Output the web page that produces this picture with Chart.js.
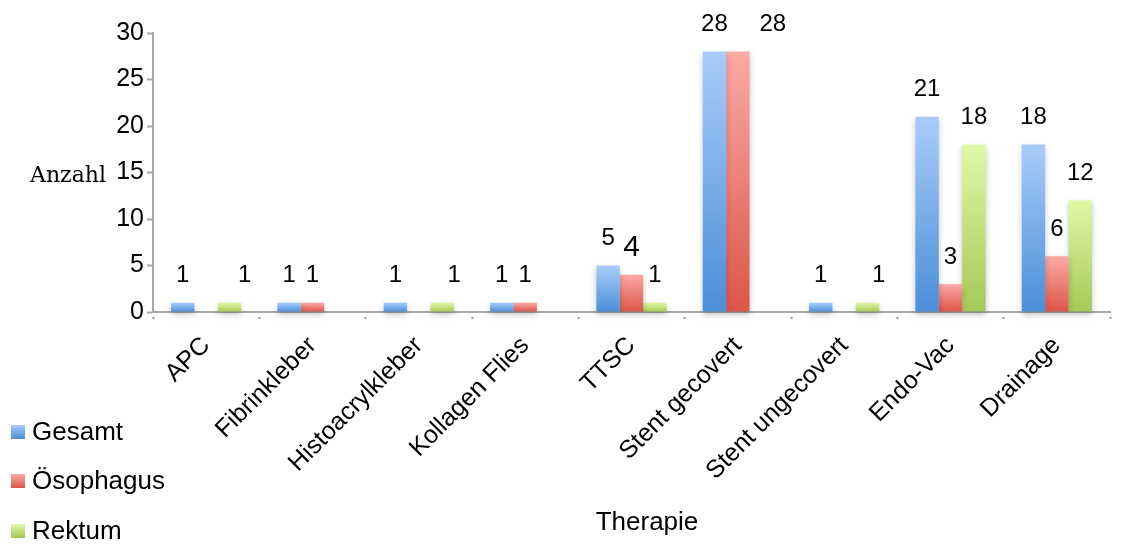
<!DOCTYPE html>
<html lang="de">
<head>
<meta charset="utf-8">
<title>Therapie – Anzahl</title>
<script src="https://cdn.jsdelivr.net/npm/chart.js@4.4.1/dist/chart.umd.min.js"></script>
<style>
  html, body { margin: 0; padding: 0; background: #ffffff; }
  #wrap { width: 1138px; height: 547px; }
</style>
</head>
<body>
<div id="wrap"><canvas id="chart" width="1138" height="547"></canvas></div>
<script>
// Therapy categories and counts per group
const categories = ['APC', 'Fibrinkleber', 'Histoacrylkleber', 'Kollagen Flies', 'TTSC',
                    'Stent gecovert', 'Stent ungecovert', 'Endo-Vac', 'Drainage'];
const gesamt     = [1, 1, 1, 1, 5, 28, 1, 21, 18];
const oesophagus = [0, 1, 0, 1, 4, 28, 0, 3, 6];
const rektum     = [1, 0, 1, 0, 1, 0, 1, 18, 12];
const yTicks     = [0, 5, 10, 15, 20, 25, 30];

const FONT = "'Liberation Sans', Arial, sans-serif";

// top / bottom colours of each series' vertical gradient
const palette = [
  { top: '#a9ccfa', bottom: '#4a8ed8' },
  { top: '#fbaaa5', bottom: '#dc5548' },
  { top: '#e0f8a6', bottom: '#a5c957' }
];

function barGradient(idx) {
  return (ctx) => {
    const chart = ctx.chart;
    const { ctx: c, chartArea, scales } = chart;
    if (!chartArea || ctx.raw === undefined) return palette[idx].bottom;
    const top = scales.y.getPixelForValue(ctx.raw);
    const bottom = scales.y.getPixelForValue(0);
    const g = c.createLinearGradient(0, top, 0, Math.max(bottom, top + 1));
    g.addColorStop(0, palette[idx].top);
    g.addColorStop(1, palette[idx].bottom);
    return g;
  };
}

// value labels above the bars, legend at the lower left, axis titles
const decorations = {
  id: 'decorations',
  beforeDatasetsDraw(chart) {
    const c = chart.ctx;
    c.save();
    c.shadowColor = 'rgba(0,0,0,0.22)';
    c.shadowBlur = 6;
    c.shadowOffsetY = 3;
  },
  afterDatasetsDraw(chart, args, opts) {
    const c = chart.ctx;
    c.restore();
    c.save();
    c.fillStyle = '#000';
    c.textAlign = 'center';
    c.textBaseline = 'middle';
    chart.data.datasets.forEach((ds, di) => {
      const meta = chart.getDatasetMeta(di);
      meta.data.forEach((bar, i) => {
        const v = ds.data[i];
        if (!v) return;
        const key = di + ':' + i;
        const size = (opts.sizes && opts.sizes[key]) || 24;
        const dx = (opts.shifts && opts.shifts[key]) || 0;
        c.font = size + 'px ' + FONT;
        c.fillText(String(v), bar.x + dx, bar.y - 27);
      });
    });
    c.restore();
  },
  afterDraw(chart) {
    const c = chart.ctx;
    c.save();
    c.fillStyle = '#000';
    c.textBaseline = 'middle';
    // y-axis title, written horizontally
    c.font = "22px 'DejaVu Serif', serif";
    c.textAlign = 'left';
    c.fillText('Anzahl', 30, 176);
    // x-axis title
    c.font = '26px ' + FONT;
    c.textAlign = 'center';
    c.fillText('Therapie', 647, 523);
    // legend
    const rows = [432, 481, 531];
    c.textAlign = 'left';
    chart.data.datasets.forEach((ds, di) => {
      const y = rows[di];
      const g = c.createLinearGradient(0, y - 7, 0, y + 7);
      g.addColorStop(0, palette[di].top);
      g.addColorStop(1, palette[di].bottom);
      c.fillStyle = g;
      c.fillRect(11, y - 7, 14, 14);
      c.fillStyle = '#000';
      c.fillText(ds.label, 32, y + 1);
    });
    c.restore();
  }
};

new Chart(document.getElementById('chart'), {
  type: 'bar',
  data: {
    labels: categories,
    datasets: [
      { label: 'Gesamt',     data: gesamt,     backgroundColor: barGradient(0) },
      { label: 'Ösophagus',  data: oesophagus, backgroundColor: barGradient(1) },
      { label: 'Rektum',     data: rektum,     backgroundColor: barGradient(2) }
    ]
  },
  options: {
    responsive: false,
    animation: false,
    layout: { padding: { top: 33, right: 28, left: 0, bottom: 0 } },
    datasets: {
      bar: { categoryPercentage: 0.66, barPercentage: 1.0, borderWidth: 0, clip: false }
    },
    plugins: {
      legend: { display: false },
      tooltip: { enabled: false },
      decorations: {
        sizes: { '1:4': 30 },
        shifts: { '2:0': 15, '2:2': 12, '1:5': 35, '2:6': 11 }
      }
    },
    scales: {
      x: {
        grid: {
          display: true,
          drawOnChartArea: false,
          offset: true,
          tickLength: 7,
          tickWidth: 2,
          tickColor: '#9a9a9a',
          tickBorderDash: [0, 4, 2, 20]
        },
        border: { display: true, color: '#a8a8a8', width: 2 },
        ticks: {
          color: '#000',
          font: { family: FONT, size: 25 },
          minRotation: 45,
          maxRotation: 45,
          padding: 12,
          autoSkip: false
        },
        title: { display: false },
        afterFit(scale) { scale.height = 235; }
      },
      y: {
        min: 0,
        max: 30,
        afterBuildTicks(scale) { scale.ticks = yTicks.map(v => ({ value: v })); },
        grid: {
          display: true,
          drawOnChartArea: false,
          tickLength: 6,
          tickWidth: 2,
          tickColor: '#a8a8a8'
        },
        border: { display: true, color: '#a8a8a8', width: 2 },
        ticks: {
          color: '#000',
          font: { family: FONT, size: 25 },
          padding: 3
        },
        afterFit(scale) { scale.width = 153; }
      }
    }
  },
  plugins: [decorations]
});
</script>
</body>
</html>
